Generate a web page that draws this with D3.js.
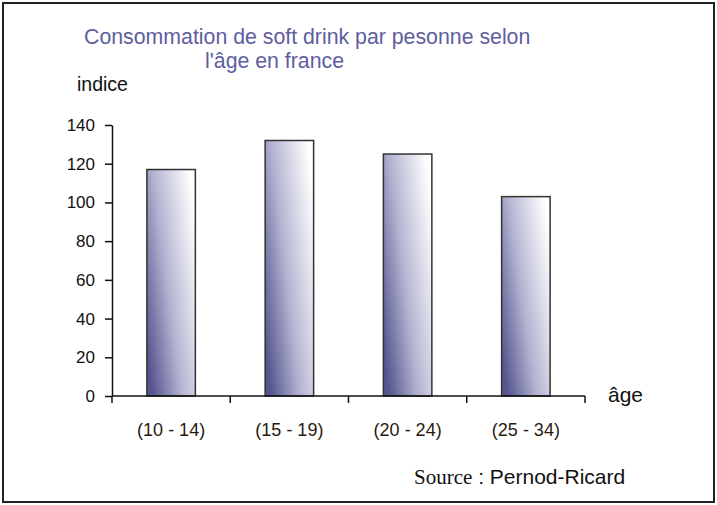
<!DOCTYPE html>
<html>
<head>
<meta charset="utf-8">
<script src="https://cdn.jsdelivr.net/npm/d3@7"></script>
<style>
  body { margin: 0; background: #fff; }
  text { font-family: "Liberation Sans", Arial, sans-serif; }
</style>
</head>
<body>
<div id="chart"></div>
<script>
    // data
    var categories = ["(10 - 14)", "(15 - 19)", "(20 - 24)", "(25 - 34)"]
    var values = [117, 132, 125, 103]
    var yTicks = [0, 20, 40, 60, 80, 100, 120, 140]

    var canvas = ({width: 717, height: 505})
    var plot = ({left: 112, right: 585, top: 125, bottom: 396})

    var svg = d3.select("#chart").append("svg")
        .attr("width", canvas.width)
        .attr("height", canvas.height)

    // frame
    svg.append("rect")
        .attr("x", 3).attr("y", 3)
        .attr("width", 711).attr("height", 499)
        .attr("fill", "#fff")
        .attr("stroke", "#222")
        .attr("stroke-width", 2)

    var grad = svg.append("defs").append("linearGradient")
        .attr("id", "barGrad")
        .attr("x1", 0).attr("y1", 0.8)
        .attr("x2", 1).attr("y2", 0.2)
    grad.append("stop").attr("offset", "0%").attr("stop-color", "#56568f")
    grad.append("stop").attr("offset", "45%").attr("stop-color", "#b4b4d2")
    grad.append("stop").attr("offset", "100%").attr("stop-color", "#ffffff")

    var x = d3.scaleBand()
        .domain(categories)
        .range([plot.left, plot.right])
        .padding(0)

    var y = d3.scaleLinear()
        .domain([0, 140])
        .range([plot.bottom, plot.top])

    // bars
    var barW = x.bandwidth() * 0.41
    svg.selectAll("rect.bar")
        .data(values)
        .join("rect")
        .attr("class", "bar")
        .attr("x", (d, i) => x(categories[i]) + (x.bandwidth() - barW) / 2)
        .attr("y", d => y(d))
        .attr("width", barW)
        .attr("height", d => y(0) - y(d))
        .attr("fill", "url(#barGrad)")
        .attr("stroke", "#333")
        .attr("stroke-width", 1.5)

    // y axis
    var yAxis = svg.append("g")
        .attr("transform", `translate(${plot.left},0)`)
        .call(d3.axisLeft(y).tickValues(yTicks).tickSize(7).tickPadding(10).tickSizeOuter(0))
    yAxis.select(".domain").attr("stroke", "#111").attr("stroke-width", 1.5)
    yAxis.selectAll(".tick line").attr("stroke", "#111").attr("stroke-width", 1.5)
    yAxis.selectAll(".tick text")
        .attr("font-size", 17)
        .attr("font-family", "Liberation Sans, Arial, sans-serif")
        .attr("fill", "#111")

    // x axis: ticks between categories
    var xAxis = svg.append("g")
        .attr("transform", `translate(0,${plot.bottom})`)
    xAxis.append("line")
        .attr("x1", plot.left).attr("x2", plot.right)
        .attr("stroke", "#111").attr("stroke-width", 1.5)
    var bounds = categories.map(c => x(c)).concat([x(categories[categories.length - 1]) + x.bandwidth()])
    xAxis.selectAll("line.tk")
        .data(bounds)
        .join("line")
        .attr("class", "tk")
        .attr("x1", d => d).attr("x2", d => d)
        .attr("y1", 0).attr("y2", 7)
        .attr("stroke", "#111").attr("stroke-width", 1.5)
    xAxis.selectAll("text.cat")
        .data(categories)
        .join("text")
        .attr("class", "cat")
        .attr("x", d => x(d) + x.bandwidth() / 2)
        .attr("y", 40)
        .attr("text-anchor", "middle")
        .attr("font-size", 18)
        .attr("fill", "#2a1a10")
        .text(d => d)

    // labels
    svg.append("text")
        .attr("x", 84).attr("y", 44)
        .attr("font-size", 21.3)
        .attr("fill", "#5e5ea0")
        .text("Consommation de soft drink par pesonne selon")
    svg.append("text")
        .attr("x", 205).attr("y", 68)
        .attr("font-size", 21.3)
        .attr("fill", "#5e5ea0")
        .text("l'âge en france")
    svg.append("text")
        .attr("x", 77).attr("y", 91)
        .attr("font-size", 19.5)
        .attr("fill", "#111")
        .text("indice")
    svg.append("text")
        .attr("x", 608).attr("y", 402)
        .attr("font-size", 21)
        .attr("fill", "#111")
        .text("âge")
    var src = svg.append("text")
        .attr("x", 414).attr("y", 484)
        .attr("font-size", 21)
        .attr("fill", "#111")
    src.append("tspan").attr("font-family", "Liberation Serif, serif").text("Source")
    src.append("tspan").text(" : Pernod-Ricard")
</script>
</body>
</html>
